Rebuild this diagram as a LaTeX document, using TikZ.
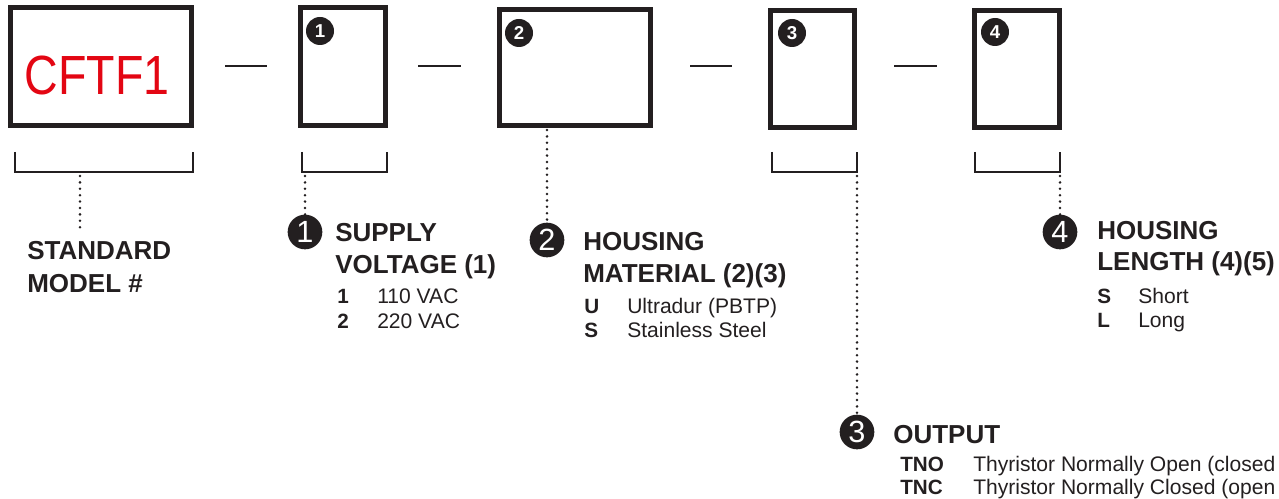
\documentclass[tikz,border=0pt]{standalone}
\usepackage{fontspec}
\setmainfont{Liberation Sans}
\usetikzlibrary{calc}
\definecolor{ink}{HTML}{231F20}
\definecolor{codered}{HTML}{E30613}
\tikzset{
	slot/.style={draw=ink, line width=3.75pt},
	brace/.style={draw=ink, line width=1.5pt},
	hyph/.style={draw=ink, line width=1.9pt},
	dotline/.style={draw=ink, line width=2.1pt, line cap=round, dash pattern=on 0pt off 4.8pt},
	numtag/.style={circle, fill=ink, text=white, inner sep=0pt, minimum size=21pt, font=\bfseries\fontsize{14}{14}\selectfont},
	bigtag/.style={circle, fill=ink, text=white, inner sep=0pt, minimum size=26pt, font=\fontsize{23}{23}\selectfont},
	head/.style={anchor=base west, inner sep=0pt, text=ink, font=\bfseries\fontsize{19.5}{19.5}\selectfont},
	code/.style={anchor=base west, inner sep=0pt, text=ink, font=\bfseries\fontsize{15.5}{15.5}\selectfont},
	desc/.style={anchor=base west, inner sep=0pt, text=ink, font=\fontsize{15.8}{15.8}\selectfont},
}

\begin{document}
\begin{tikzpicture}[x=0.75pt, y=-0.75pt]
			%%%%% START %%%%%
			\useasboundingbox (0, 0) rectangle (1279, 499);
			
			% model code boxes
			\draw[slot] (10.5, 7.5) rectangle (191.5, 125.5);
			\node[text=codered, font=\fontsize{36}{36}\selectfont] (model) at (97, 75) {\scalebox{0.97}[1.15]{CFTF1}};
			
			\draw[slot] (300.5, 7.5) rectangle (385, 125.5);
			\node[numtag] (s1) at (320, 31) {1};
			
			\draw[slot] (499.5, 9.5) rectangle (650.5, 125.5);
			\node[numtag] (s2) at (519, 33) {2};
			
			\draw[slot] (770.5, 10.5) rectangle (854.5, 127.5);
			\node[numtag] (s3) at (792, 33) {3};
			
			\draw[slot] (974.5, 10.5) rectangle (1059.5, 127.5);
			\node[numtag] (s4) at (995, 32) {4};
			
			% dashes between the boxes
			\draw[hyph] (225, 66) -- (267, 66);
			\draw[hyph] (418, 66) -- (461, 66);
			\draw[hyph] (690, 66) -- (732, 66);
			\draw[hyph] (894, 66) -- (937, 66);
			
			% brackets
			\draw[brace] (15, 152) -- (15, 172) -- (193, 172) -- (193, 152);
			\draw[brace] (302, 152) -- (302, 172) -- (387, 172) -- (387, 152);
			\draw[brace] (772, 152) -- (772, 172) -- (857, 172) -- (857, 152);
			\draw[brace] (975, 152) -- (975, 172) -- (1060, 172) -- (1060, 152);
			
			\coordinate (d0) at (80, 176);
			\coordinate (e0) at (80, 233);
			\coordinate (d1) at (305, 176);
			\coordinate (d2) at (547, 130);
			\coordinate (d3) at (857, 176);
			\coordinate (d4) at (1060, 176);
			
			% callout badges
			\node[bigtag] (b1) at (305, 232) {1};
			\node[bigtag] (b2) at (547, 240) {2};
			\node[bigtag] (b3) at (857, 432) {3};
			\node[bigtag] (b4) at (1060, 232) {4};
			
			\draw[dotline] (d0) -- (e0);
			\draw[dotline] (d1) -- (b1);
			\draw[dotline] (d2) -- (b2);
			\draw[dotline] (d3) -- (b3);
			\draw[dotline] (d4) -- (b4);
			
			% standard model
			\node[head] (std1) at (27, 260) {STANDARD};
			\node[head] (std2) at (27, 292) {MODEL \#};
			
			% supply voltage
			\node[head] (sup1) at (335, 242) {SUPPLY};
			\node[head] (sup2) at (335, 273) {VOLTAGE (1)};
			\node[code] (supk1) at (337, 304) {1};
			\node[desc] (supv1) at (377, 304) {110 VAC};
			\node[code] (supk2) at (337, 328) {2};
			\node[desc] (supv2) at (377, 328) {220 VAC};
			
			% housing material
			\node[head] (mat1) at (583, 251) {HOUSING};
			\node[head] (mat2) at (583, 282) {MATERIAL (2)(3)};
			\node[code] (matk1) at (584, 313) {U};
			\node[desc] (matv1) at (627, 313) {Ultradur (PBTP)};
			\node[code] (matk2) at (584, 337) {S};
			\node[desc] (matv2) at (627, 337) {Stainless Steel};
			
			% output
			\node[head] (out1) at (893, 443) {OUTPUT};
			\node[code] (outk1) at (900, 471) {TNO};
			\node[desc] (outv1) at (973, 471) {Thyristor Normally Open (closed};
			\node[code] (outk2) at (900, 494) {TNC};
			\node[desc] (outv2) at (973, 494) {Thyristor Normally Closed (open};
			
			% housing length
			\node[head] (len1) at (1097, 240) {HOUSING};
			\node[head] (len2) at (1097, 271) {LENGTH (4)(5)};
			\node[code] (lenk1) at (1097, 303) {S};
			\node[desc] (lenv1) at (1138, 303) {Short};
			\node[code] (lenk2) at (1097, 327) {L};
			\node[desc] (lenv2) at (1138, 327) {Long};
			
			%%%%% END %%%%%
\end{tikzpicture}
\end{document}
